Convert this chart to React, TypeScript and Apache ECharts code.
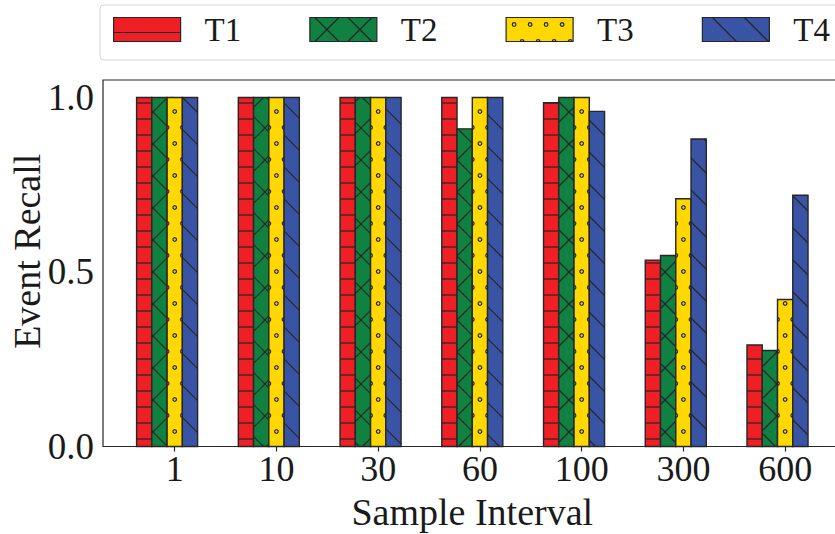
import React, { useEffect, useRef } from 'react';
import * as echarts from 'echarts';

const categories = ['1', '10', '30', '60', '100', '300', '600'];
const seriesNames = ['T1', 'T2', 'T3', 'T4'];
const t1 = [1.0, 1.0, 1.0, 1.0, 0.985, 0.534, 0.291];
const t2 = [1.0, 1.0, 1.0, 0.91, 1.0, 0.547, 0.275];
const t3 = [1.0, 1.0, 1.0, 1.0, 1.0, 0.71, 0.421];
const t4 = [1.0, 1.0, 1.0, 1.0, 0.96, 0.881, 0.72];
const yTicks = [0, 0.5, 1.0];
const xLabel = 'Sample Interval';
const yLabel = 'Event Recall';

const seriesValues = [t1, t2, t3, t4];
const colors = ['#EE1F25', '#108140', '#FED800', '#3A54A5'];
const offsets = [-0.3, -0.15, 0, 0.15];
const BAR_W = 0.15;
const EDGE = '#262626';
const TEXT = '#1a1a1a';
const FONT = "'Liberation Serif', 'Times New Roman', serif";

const mod = (a: number, m: number) => ((a % m) + m) % m;

function hatch(k: number, x0: number, x1: number, yT: number, yB: number, out: any[]) {
  const ls = { stroke: EDGE, lineWidth: 1.2, fill: 'none' };
  const line = (ax: number, ay: number, bx: number, by: number) =>
    out.push({ type: 'line', shape: { x1: ax, y1: ay, x2: bx, y2: by }, style: ls });
  const back = (c0: number, P: number) => {
    const cMin = yT - x1, cMax = yB - x0;
    let c = cMin + mod(c0 - cMin, P);
    for (; c <= cMax; c += P) {
      const sx = Math.max(x0, yT - c), ex = Math.min(x1, yB - c);
      if (ex > sx) line(sx, sx + c, ex, ex + c);
    }
  };
  const fwd = (c0: number, P: number) => {
    const cMin = yT + x0, cMax = yB + x1;
    let c = cMin + mod(c0 - cMin, P);
    for (; c <= cMax; c += P) {
      const sx = Math.max(x0, c - yB), ex = Math.min(x1, c - yT);
      if (ex > sx) line(sx, c - sx, ex, c - ex);
    }
  };
  if (k === 0) {
    let y = yT + mod(7 - yT, 16);
    for (; y < yB - 0.5; y += 16) line(x0, y, x1, y);
  } else if (k === 1) {
    back(23, 32);
    fwd(9, 32);
  } else if (k === 2) {
    const r = 1.8;
    const cx = (x0 + x1) / 2;
    for (let y = yB - 15; y - r >= yT; y -= 32) {
      out.push({ type: 'circle', shape: { cx, cy: y, r }, style: ls });
    }
    for (let y = yB - 31; y - r >= yT; y -= 32) {
      out.push({ type: 'arc', shape: { cx: x0, cy: y, r, startAngle: -Math.PI / 2, endAngle: Math.PI / 2, clockwise: true }, style: ls });
      out.push({ type: 'arc', shape: { cx: x1, cy: y, r, startAngle: Math.PI / 2, endAngle: (3 * Math.PI) / 2, clockwise: true }, style: ls });
    }
  } else {
    back(11, 32);
  }
}

const makeRender = (k: number) => (params: any, api: any) => {
  const i = api.value(0);
  const v = api.value(1);
  const top = api.coord([i + offsets[k], v]);
  const base = api.coord([i + offsets[k], 0]);
  const w = api.size([BAR_W, 0])[0];
  const x0 = top[0] - w / 2;
  const x1 = top[0] + w / 2;
  const yT = top[1];
  const yB = base[1];
  const children: any[] = [
    { type: 'rect', shape: { x: x0, y: yT, width: w, height: yB - yT }, style: { fill: colors[k], stroke: 'none' } },
  ];
  hatch(k, x0, x1, yT, yB, children);
  children.push({
    type: 'rect',
    shape: { x: x0, y: yT, width: w, height: yB - yT },
    style: { fill: 'none', stroke: EDGE, lineWidth: 1.4 },
  });
  return { type: 'group', children };
};

const circ = (x: number, y: number, r: number) =>
  `M${x - r} ${y}A${r} ${r} 0 1 1 ${x + r} ${y}A${r} ${r} 0 1 1 ${x - r} ${y}Z`;
const half = (x: number, y: number, r: number) => `M${x - r} ${y}A${r} ${r} 0 0 1 ${x + r} ${y}`;

const legendIcons = [
  'path://M0 0H67V24H0Z M0 15H67',
  'path://M0 0H67V24H0Z M5 0L29 24 M5 24L29 0 M38 0L62 24 M38 24L62 0',
  'path://M0 0H67V24H0Z ' +
    [8, 24, 40, 56].map((x) => circ(x, 7, 1.8)).join(' ') +
    ' ' +
    [16, 32, 48, 64].map((x) => half(x, 24, 1.8)).join(' '),
  'path://M0 0H67V24H0Z M10 0L34 24 M42 0L66 24',
];

export default function App() {
  const ref = useRef<HTMLDivElement>(null);
  useEffect(() => {
    if (!ref.current) return;
    const chart = echarts.init(ref.current, undefined, { renderer: 'svg' });
    const option: any = {
      animation: false,
      backgroundColor: '#ffffff',
      legend: {
        left: 100,
        top: 5,
        width: 780,
        orient: 'horizontal',
        selectedMode: false,
        padding: [8, 13, 14, 13],
        itemWidth: 67,
        itemHeight: 24,
        itemGap: 68,
        borderColor: '#d4d4d4',
        borderWidth: 1,
        borderRadius: 4,
        textStyle: { fontFamily: FONT, fontSize: 33, color: TEXT, padding: [0, 0, 0, 19], lineHeight: 33 },
        data: seriesNames.map((n, k) => ({
          name: n,
          icon: legendIcons[k],
          itemStyle: { color: colors[k], borderColor: EDGE, borderWidth: 1.2 },
        })),
      },
      grid: {
        left: 103,
        top: 80,
        right: -6.6,
        bottom: 87.5,
        show: true,
        borderColor: EDGE,
        borderWidth: 1.2,
        containLabel: false,
        outerBoundsMode: 'none',
      },
      xAxis: {
        type: 'value',
        min: -0.705,
        max: 6.555,
        axisLine: { show: false },
        splitLine: { show: false },
        axisTick: {
          show: true,
          length: 5,
          customValues: categories.map((_, i) => i),
          lineStyle: { color: EDGE, width: 1.2 },
        },
        axisLabel: {
          customValues: categories.map((_, i) => i),
          formatter: (v: number) => categories[Math.round(v)],
          fontFamily: FONT,
          fontSize: 36,
          color: TEXT,
          margin: 4,
        },
        name: xLabel,
        nameLocation: 'middle',
        nameMoveOverlap: false,
        nameGap: 51,
        nameTextStyle: { fontFamily: FONT, fontSize: 38, color: TEXT, lineHeight: 28 },
      },
      yAxis: {
        type: 'value',
        min: 0,
        max: 1.05,
        axisLine: { show: false },
        splitLine: { show: false },
        axisTick: { show: true, length: 5, customValues: yTicks, lineStyle: { color: EDGE, width: 1.2 } },
        axisLabel: {
          customValues: yTicks,
          formatter: (v: number) => v.toFixed(1),
          fontFamily: FONT,
          fontSize: 37,
          color: TEXT,
          margin: 9,
        },
        name: yLabel,
        nameLocation: 'middle',
        nameMoveOverlap: false,
        nameRotate: 90,
        nameGap: 57,
        nameTextStyle: { fontFamily: FONT, fontSize: 38, color: TEXT, padding: [0, 0, 0, 24] },
      },
      series: seriesNames.map((n, k) => ({
        type: 'custom',
        name: n,
        itemStyle: { color: colors[k] },
        encode: { x: 0, y: 1 },
        data: seriesValues[k].map((v, i) => [i, v]),
        renderItem: makeRender(k),
      })),
    };
    chart.setOption(option);
    return () => chart.dispose();
  }, []);
  return <div ref={ref} style={{ position: 'fixed', left: 0, top: 0, width: 835, height: 534 }} />;
}
